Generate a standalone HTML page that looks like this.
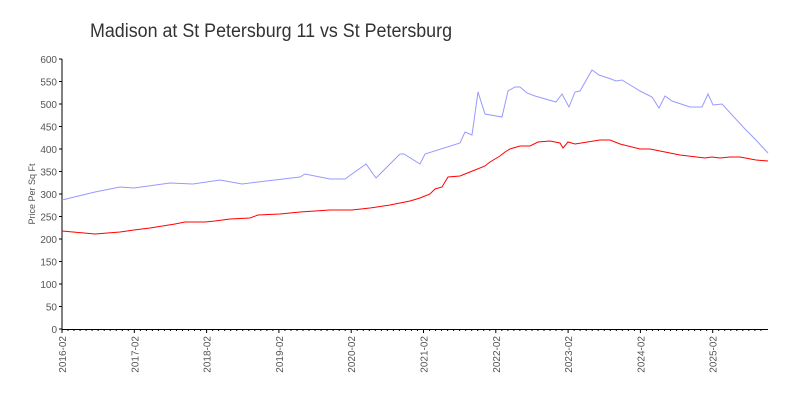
<!DOCTYPE html>
<html><head><style>body{margin:0;background:#fff}svg{display:block;font-family:"Liberation Sans",sans-serif}</style></head>
<body>
<svg width="800" height="400" viewBox="0 0 800 400">
<rect width="800" height="400" fill="#fff"/>
<text x="90" y="37" font-size="19" fill="#333" textLength="362" lengthAdjust="spacingAndGlyphs">Madison at St Petersburg 11 vs St Petersburg</text>
<g stroke="#000" stroke-width="1">
<line x1="62" y1="59" x2="62" y2="330"/>
<line x1="62" y1="329.5" x2="768" y2="329.5"/>
</g>
<g font-size="10" fill="#555" text-anchor="end" id="yl"></g>
<g id="ticks" stroke="#000"></g>
<g id="xl" font-size="10" fill="#555" text-anchor="end"></g>
<text transform="translate(35,194) rotate(-90)" font-size="9" fill="#555" text-anchor="middle">Price Per Sq Ft</text>
<polyline fill="none" stroke="#9999ff" stroke-width="1" points="62,200 95,192 120,187 134,188 170,183 193,184 220,180 242,184 258,182 300,177 305,174 330,179 345,179 366,164 376,178 400,154 404,154 420,164 425,154 460,143 465,132 472,135 478,92 485,114 502,117 508,91 515,87 520,87 527,93 535,96 556,102 562,94 569,107 575,92 580,91 592,70 599,75 611,79 616,81 622,80 640,91 652,97 659,108 665,96 672,101 690,107 702,107 708,94 713,105 722,104 745,129 755,139 768,153"/>
<polyline fill="none" stroke="#ff0000" stroke-width="1" points="62,231 95,234 120,232 134,230 150,228 175,224 185,222 205,222 215,221 230,219 250,218 258,215 280,214 300,212 330,210 352,210 370,208 390,205 410,201 420,198 430,194 435,189 442,187 448,177 460,176 470,172 485,166 490,162 500,156 505,152 510,149 520,146 530,146 538,142 550,141 560,143 563,148 568,142 575,144 600,140 610,140 620,144 640,149 650,149 665,152 680,155 705,158 712,157 720,158 730,157 740,157 756,160 768,161"/>
<script>
var yl=document.getElementById('yl'),t=document.getElementById('ticks'),xl=document.getElementById('xl'),ns='http://www.w3.org/2000/svg';
for(var v=0;v<=600;v+=50){var y=329-v*0.45;var e=document.createElementNS(ns,'text');e.setAttribute('x',57);e.setAttribute('y',y+4);e.textContent=v;yl.appendChild(e);
var l=document.createElementNS(ns,'line');l.setAttribute('x1',59);l.setAttribute('x2',62);l.setAttribute('y1',y);l.setAttribute('y2',y);t.appendChild(l);}
for(var m=0;m<=116;m++){var x=62+m*72.3/12;if(x>768)break;var l=document.createElementNS(ns,'line');l.setAttribute('x1',x);l.setAttribute('x2',x);l.setAttribute('y1',329);l.setAttribute('y2',m%12==0?333:331);t.appendChild(l);
if(m%12==0){var e=document.createElementNS(ns,'text');e.setAttribute('transform','translate('+(x+4)+',336) rotate(-90)');e.textContent=(2016+m/12)+'-02';xl.appendChild(e);}}
</script>
</svg>
</body></html>
